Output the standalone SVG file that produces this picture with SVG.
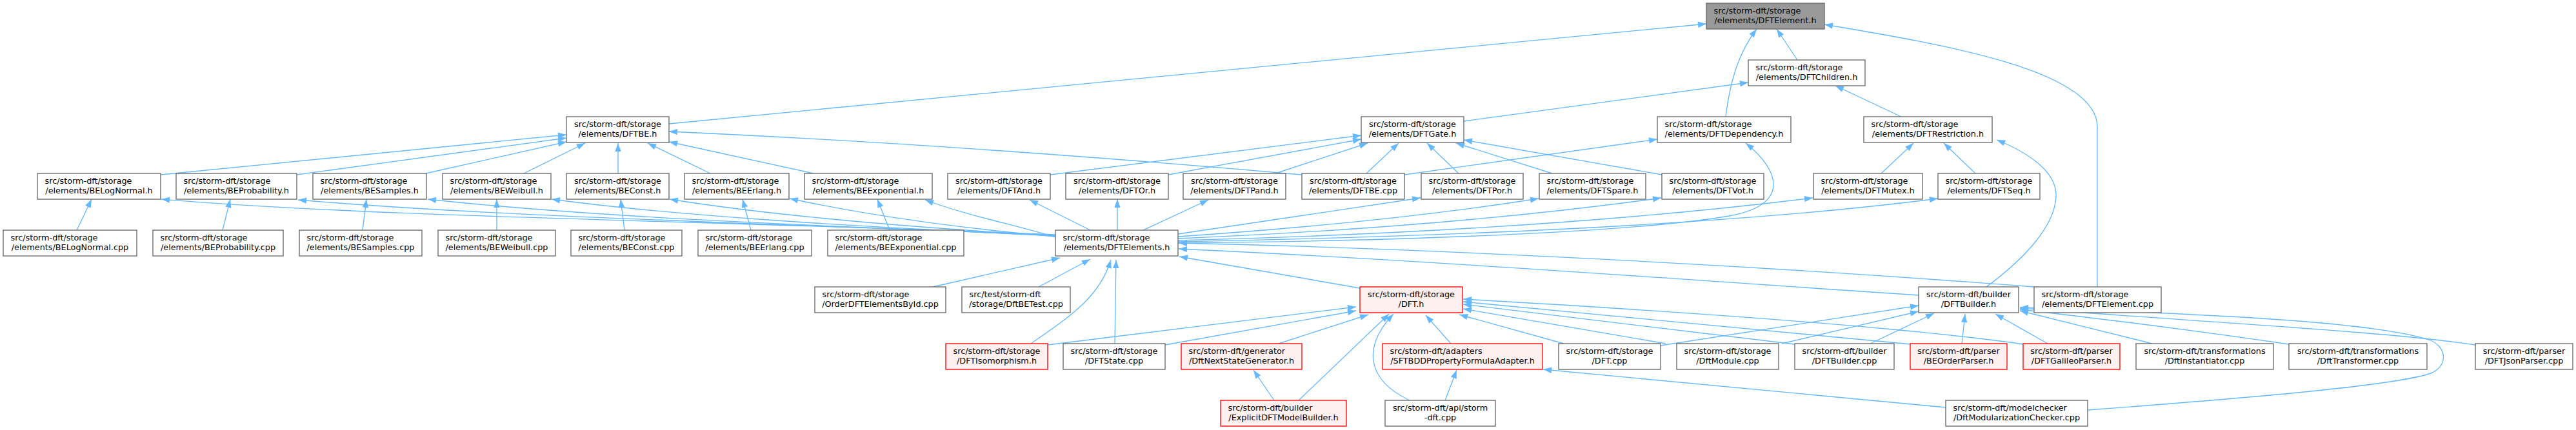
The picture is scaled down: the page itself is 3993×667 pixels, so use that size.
<svg xmlns="http://www.w3.org/2000/svg" width="3993" height="667" viewBox="0 0 3993 667">
<style>
.n rect{fill:#fff;stroke:#666;stroke-width:1.33}
.main rect{fill:#999}
.red rect{fill:#fff0f0;stroke:#ff0000}
text{font-family:"DejaVu Sans",sans-serif;font-size:12.8px;fill:#000}
.s{text-anchor:start}
.m{text-anchor:middle}
#edges path{fill:none;stroke:#63b8ff;stroke-width:1.33;marker-end:url(#a)}
</style>
<defs>
<marker id="a" markerUnits="userSpaceOnUse" markerWidth="14" markerHeight="10" refX="13" refY="4.7" orient="auto" overflow="visible"><path d="M0,0 L13,4.7 L0,9.4 z" fill="#63b8ff"/></marker>
</defs>
<rect width="3993" height="667" fill="#fff"/>
<g id="edges">
<path d="M1037,192 L2645,37"/>
<path d="M2786,93 L2754,45"/>
<path d="M2675,181 C2683,115 2700,75 2723,45"/>
<path d="M3251,445 L3251,197 C3251,110 3020,70 2828,38"/>
<path d="M2269,188 L2710,128"/>
<path d="M2947,181 L2845,133"/>
<path d="M249,271 L878,209"/>
<path d="M460,271 L878,214"/>
<path d="M660,269 L878,220"/>
<path d="M812,269 L907,222"/>
<path d="M958,269 L958,222"/>
<path d="M1101,269 L1004,222"/>
<path d="M1261,269 L1037,220"/>
<path d="M2017,271 Q1500,225 1037,204"/>
<path d="M1628,271 L2110,210"/>
<path d="M1811,271 L2110,216"/>
<path d="M1977,269 L2120,222"/>
<path d="M2118,269 L2168,222"/>
<path d="M2261,269 L2212,222"/>
<path d="M2406,269 L2257,222"/>
<path d="M2576,271 L2269,217"/>
<path d="M2177,271 L2569,216"/>
<path d="M1826,377 C2250,373 2560,356 2680,335 C2775,318 2760,265 2706,222"/>
<path d="M2916,269 L2966,222"/>
<path d="M3062,269 L3013,222"/>
<path d="M3079,445 C3140,400 3185,350 3187,305 C3189,265 3140,235 3095,217"/>
<path d="M1636,364 C1100,342 600,338 250,309"/>
<path d="M1636,365 C1150,345 750,335 462,310"/>
<path d="M1636,365 C1200,348 900,335 663,309"/>
<path d="M1636,366 C1300,350 1050,335 855,309"/>
<path d="M1636,366 C1400,352 1200,335 1038,309"/>
<path d="M1636,367 C1500,355 1350,335 1224,308"/>
<path d="M1636,368 C1580,350 1500,335 1434,310"/>
<path d="M119,357 L142,309"/>
<path d="M345,357 L357,309"/>
<path d="M562,357 L568,309"/>
<path d="M770,357 L770,309"/>
<path d="M968,357 L962,309"/>
<path d="M1164,357 L1151,309"/>
<path d="M1379,357 L1360,309"/>
<path d="M1690,357 L1596,310"/>
<path d="M1732,357 L1732,309"/>
<path d="M1772,357 L1873,310"/>
<path d="M1826,363 L2202,307"/>
<path d="M1826,367 Q2150,345 2385,308"/>
<path d="M1826,370 Q2250,352 2575,307"/>
<path d="M1826,373 Q2400,358 2810,307"/>
<path d="M1826,375 Q2600,360 3004,308"/>
<path d="M3153,445 C2700,410 2200,385 1827,377"/>
<path d="M2974,458 C2600,433 2200,403 1827,386"/>
<path d="M2108,447 L1828,398"/>
<path d="M1446,445 L1643,400"/>
<path d="M1610,445 L1690,402"/>
<path d="M1598,533 C1660,490 1705,460 1722,403"/>
<path d="M1728,533 L1730,403"/>
<path d="M1624,535 L2102,476"/>
<path d="M1806,535 L2102,482"/>
<path d="M1982,533 L2121,488"/>
<path d="M2013,621 L2153,487"/>
<path d="M2185,621 C2120,590 2110,540 2160,487"/>
<path d="M2249,533 L2210,489"/>
<path d="M2424,533 L2262,488"/>
<path d="M2582,533 L2268,479"/>
<path d="M2782,534 L2268,472"/>
<path d="M2962,534 L2268,468"/>
<path d="M3137,534 Q2900,500 2268,464"/>
<path d="M2574,536 L2974,474"/>
<path d="M2762,533 L2974,483"/>
<path d="M2899,533 L2998,486"/>
<path d="M3041,533 L3046,487"/>
<path d="M3174,533 L3093,487"/>
<path d="M3336,533 L3131,482"/>
<path d="M3548,534 Q3350,505 3131,480"/>
<path d="M3837,535 C3700,515 3500,505 3131,478"/>
<path d="M3236,636 C3450,620 3700,600 3765,580 C3795,570 3795,538 3765,527 C3680,500 3450,488 3131,477"/>
<path d="M2240,621 L2258,574"/>
<path d="M3016,632 L2392,573"/>
<path d="M1975,621 L1943,574"/>
</g>
<g id="n_DFTElement_h" class="n main"><rect x="2645" y="5" width="183" height="40"/><text class="s" x="2656.5" y="21">src/storm-dft/storage</text><text class="m" x="2736.5" y="35.5">/elements/DFTElement.h</text></g>
<g id="n_DFTChildren_h" class="n"><rect x="2710" y="93" width="181" height="40"/><text class="s" x="2721.5" y="109">src/storm-dft/storage</text><text class="m" x="2800.5" y="123.5">/elements/DFTChildren.h</text></g>
<g id="n_DFTBE_h" class="n"><rect x="878" y="181" width="159" height="40"/><text class="m" x="957.5" y="197">src/storm-dft/storage</text><text class="m" x="957.5" y="211.5">/elements/DFTBE.h</text></g>
<g id="n_DFTGate_h" class="n"><rect x="2110" y="181" width="159" height="40"/><text class="m" x="2189.5" y="197">src/storm-dft/storage</text><text class="m" x="2189.5" y="211.5">/elements/DFTGate.h</text></g>
<g id="n_DFTDependency_h" class="n"><rect x="2569" y="181" width="207" height="40"/><text class="s" x="2580.5" y="197">src/storm-dft/storage</text><text class="m" x="2672.5" y="211.5">/elements/DFTDependency.h</text></g>
<g id="n_DFTRestriction_h" class="n"><rect x="2889" y="181" width="199" height="40"/><text class="s" x="2900.5" y="197">src/storm-dft/storage</text><text class="m" x="2988.5" y="211.5">/elements/DFTRestriction.h</text></g>
<g id="n_BELogNormal_h" class="n"><rect x="58" y="269" width="191" height="40"/><text class="s" x="69.5" y="285">src/storm-dft/storage</text><text class="m" x="153.5" y="299.5">/elements/BELogNormal.h</text></g>
<g id="n_BEProbability_h" class="n"><rect x="273" y="269" width="187" height="40"/><text class="s" x="284.5" y="285">src/storm-dft/storage</text><text class="m" x="366.5" y="299.5">/elements/BEProbability.h</text></g>
<g id="n_BESamples_h" class="n"><rect x="485" y="269" width="176" height="40"/><text class="s" x="496.5" y="285">src/storm-dft/storage</text><text class="m" x="573" y="299.5">/elements/BESamples.h</text></g>
<g id="n_BEWeibull_h" class="n"><rect x="686" y="269" width="168" height="40"/><text class="s" x="697.5" y="285">src/storm-dft/storage</text><text class="m" x="770" y="299.5">/elements/BEWeibull.h</text></g>
<g id="n_BEConst_h" class="n"><rect x="878" y="269" width="159" height="40"/><text class="m" x="957.5" y="285">src/storm-dft/storage</text><text class="m" x="957.5" y="299.5">/elements/BEConst.h</text></g>
<g id="n_BEErlang_h" class="n"><rect x="1061" y="269" width="162" height="40"/><text class="s" x="1072.5" y="285">src/storm-dft/storage</text><text class="m" x="1142" y="299.5">/elements/BEErlang.h</text></g>
<g id="n_BEExponential_h" class="n"><rect x="1247" y="269" width="198" height="40"/><text class="s" x="1258.5" y="285">src/storm-dft/storage</text><text class="m" x="1346" y="299.5">/elements/BEExponential.h</text></g>
<g id="n_DFTAnd_h" class="n"><rect x="1469" y="269" width="159" height="40"/><text class="m" x="1548.5" y="285">src/storm-dft/storage</text><text class="m" x="1548.5" y="299.5">/elements/DFTAnd.h</text></g>
<g id="n_DFTOr_h" class="n"><rect x="1652" y="269" width="159" height="40"/><text class="m" x="1731.5" y="285">src/storm-dft/storage</text><text class="m" x="1731.5" y="299.5">/elements/DFTOr.h</text></g>
<g id="n_DFTPand_h" class="n"><rect x="1834" y="269" width="159" height="40"/><text class="m" x="1913.5" y="285">src/storm-dft/storage</text><text class="m" x="1913.5" y="299.5">/elements/DFTPand.h</text></g>
<g id="n_DFTBE_cpp" class="n"><rect x="2018" y="269" width="159" height="40"/><text class="m" x="2097.5" y="285">src/storm-dft/storage</text><text class="m" x="2097.5" y="299.5">/elements/DFTBE.cpp</text></g>
<g id="n_DFTPor_h" class="n"><rect x="2203" y="269" width="158" height="40"/><text class="m" x="2282" y="285">src/storm-dft/storage</text><text class="m" x="2282" y="299.5">/elements/DFTPor.h</text></g>
<g id="n_DFTSpare_h" class="n"><rect x="2386" y="269" width="165" height="40"/><text class="s" x="2397.5" y="285">src/storm-dft/storage</text><text class="m" x="2468.5" y="299.5">/elements/DFTSpare.h</text></g>
<g id="n_DFTVot_h" class="n"><rect x="2576" y="269" width="158" height="40"/><text class="m" x="2655" y="285">src/storm-dft/storage</text><text class="m" x="2655" y="299.5">/elements/DFTVot.h</text></g>
<g id="n_DFTMutex_h" class="n"><rect x="2811" y="269" width="169" height="40"/><text class="s" x="2822.5" y="285">src/storm-dft/storage</text><text class="m" x="2895.5" y="299.5">/elements/DFTMutex.h</text></g>
<g id="n_DFTSeq_h" class="n"><rect x="3004" y="269" width="158" height="40"/><text class="m" x="3083" y="285">src/storm-dft/storage</text><text class="m" x="3083" y="299.5">/elements/DFTSeq.h</text></g>
<g id="n_BELogNormal_cpp" class="n"><rect x="5" y="357" width="207" height="40"/><text class="s" x="16.5" y="373">src/storm-dft/storage</text><text class="m" x="108.5" y="387.5">/elements/BELogNormal.cpp</text></g>
<g id="n_BEProbability_cpp" class="n"><rect x="237" y="357" width="202" height="40"/><text class="s" x="248.5" y="373">src/storm-dft/storage</text><text class="m" x="338" y="387.5">/elements/BEProbability.cpp</text></g>
<g id="n_BESamples_cpp" class="n"><rect x="464" y="357" width="190" height="40"/><text class="s" x="475.5" y="373">src/storm-dft/storage</text><text class="m" x="559" y="387.5">/elements/BESamples.cpp</text></g>
<g id="n_BEWeibull_cpp" class="n"><rect x="679" y="357" width="182" height="40"/><text class="s" x="690.5" y="373">src/storm-dft/storage</text><text class="m" x="770" y="387.5">/elements/BEWeibull.cpp</text></g>
<g id="n_BEConst_cpp" class="n"><rect x="885" y="357" width="172" height="40"/><text class="s" x="896.5" y="373">src/storm-dft/storage</text><text class="m" x="971" y="387.5">/elements/BEConst.cpp</text></g>
<g id="n_BEErlang_cpp" class="n"><rect x="1082" y="357" width="176" height="40"/><text class="s" x="1093.5" y="373">src/storm-dft/storage</text><text class="m" x="1170" y="387.5">/elements/BEErlang.cpp</text></g>
<g id="n_BEExponential_cpp" class="n"><rect x="1283" y="357" width="211" height="40"/><text class="s" x="1294.5" y="373">src/storm-dft/storage</text><text class="m" x="1388.5" y="387.5">/elements/BEExponential.cpp</text></g>
<g id="n_DFTElements_h" class="n"><rect x="1636" y="357" width="190" height="40"/><text class="s" x="1647.5" y="373">src/storm-dft/storage</text><text class="m" x="1731" y="387.5">/elements/DFTElements.h</text></g>
<g id="n_OrderDFTElementsById_cpp" class="n"><rect x="1263" y="445" width="203" height="40"/><text class="s" x="1274.5" y="461">src/storm-dft/storage</text><text class="m" x="1364.5" y="475.5">/OrderDFTElementsById.cpp</text></g>
<g id="n_DftBETest_cpp" class="n"><rect x="1491" y="445" width="168" height="40"/><text class="s" x="1502.5" y="461">src/test/storm-dft</text><text class="m" x="1575" y="475.5">/storage/DftBETest.cpp</text></g>
<g id="n_DFT_h" class="n red"><rect x="2108" y="445" width="159" height="40"/><text class="m" x="2187.5" y="461">src/storm-dft/storage</text><text class="m" x="2187.5" y="475.5">/DFT.h</text></g>
<g id="n_DFTBuilder_h" class="n"><rect x="2974" y="445" width="155" height="40"/><text class="m" x="3051.5" y="461">src/storm-dft/builder</text><text class="m" x="3051.5" y="475.5">/DFTBuilder.h</text></g>
<g id="n_DFTElement_cpp" class="n"><rect x="3153" y="445" width="197" height="40"/><text class="s" x="3164.5" y="461">src/storm-dft/storage</text><text class="m" x="3251.5" y="475.5">/elements/DFTElement.cpp</text></g>
<g id="n_DFTIsomorphism_h" class="n red"><rect x="1466" y="533" width="158" height="40"/><text class="m" x="1545" y="549">src/storm-dft/storage</text><text class="m" x="1545" y="563.5">/DFTIsomorphism.h</text></g>
<g id="n_DFTState_cpp" class="n"><rect x="1648" y="533" width="158" height="40"/><text class="m" x="1727" y="549">src/storm-dft/storage</text><text class="m" x="1727" y="563.5">/DFTState.cpp</text></g>
<g id="n_DftNextStateGenerator_h" class="n red"><rect x="1831" y="533" width="187" height="40"/><text class="s" x="1842.5" y="549">src/storm-dft/generator</text><text class="m" x="1924.5" y="563.5">/DftNextStateGenerator.h</text></g>
<g id="n_SFTBDDPropertyFormulaAdapter_h" class="n red"><rect x="2143" y="533" width="248" height="40"/><text class="s" x="2154.5" y="549">src/storm-dft/adapters</text><text class="m" x="2267" y="563.5">/SFTBDDPropertyFormulaAdapter.h</text></g>
<g id="n_DFT_cpp" class="n"><rect x="2416" y="533" width="158" height="40"/><text class="m" x="2495" y="549">src/storm-dft/storage</text><text class="m" x="2495" y="563.5">/DFT.cpp</text></g>
<g id="n_DftModule_cpp" class="n"><rect x="2599" y="533" width="158" height="40"/><text class="m" x="2678" y="549">src/storm-dft/storage</text><text class="m" x="2678" y="563.5">/DftModule.cpp</text></g>
<g id="n_DFTBuilder_cpp" class="n"><rect x="2782" y="533" width="154" height="40"/><text class="m" x="2859" y="549">src/storm-dft/builder</text><text class="m" x="2859" y="563.5">/DFTBuilder.cpp</text></g>
<g id="n_BEOrderParser_h" class="n red"><rect x="2961" y="533" width="150" height="40"/><text class="m" x="3036" y="549">src/storm-dft/parser</text><text class="m" x="3036" y="563.5">/BEOrderParser.h</text></g>
<g id="n_DFTGalileoParser_h" class="n red"><rect x="3136" y="533" width="150" height="40"/><text class="m" x="3211" y="549">src/storm-dft/parser</text><text class="m" x="3211" y="563.5">/DFTGalileoParser.h</text></g>
<g id="n_DftInstantiator_cpp" class="n"><rect x="3311" y="533" width="213" height="40"/><text class="m" x="3417.5" y="549">src/storm-dft/transformations</text><text class="m" x="3417.5" y="563.5">/DftInstantiator.cpp</text></g>
<g id="n_DftTransformer_cpp" class="n"><rect x="3548" y="533" width="214" height="40"/><text class="m" x="3655" y="549">src/storm-dft/transformations</text><text class="m" x="3655" y="563.5">/DftTransformer.cpp</text></g>
<g id="n_DFTJsonParser_cpp" class="n"><rect x="3837" y="533" width="151" height="40"/><text class="m" x="3912.5" y="549">src/storm-dft/parser</text><text class="m" x="3912.5" y="563.5">/DFTJsonParser.cpp</text></g>
<g id="n_ExplicitDFTModelBuilder_h" class="n red"><rect x="1892" y="621" width="195" height="40"/><text class="s" x="1903.5" y="637">src/storm-dft/builder</text><text class="m" x="1989.5" y="651.5">/ExplicitDFTModelBuilder.h</text></g>
<g id="n_storm_dft_cpp" class="n"><rect x="2147" y="621" width="171" height="40"/><text class="m" x="2232.5" y="637">src/storm-dft/api/storm</text><text class="m" x="2232.5" y="651.5">-dft.cpp</text></g>
<g id="n_DftModularizationChecker_cpp" class="n"><rect x="3016" y="621" width="220" height="40"/><text class="s" x="3027.5" y="637">src/storm-dft/modelchecker</text><text class="m" x="3126" y="651.5">/DftModularizationChecker.cpp</text></g>
</svg>
